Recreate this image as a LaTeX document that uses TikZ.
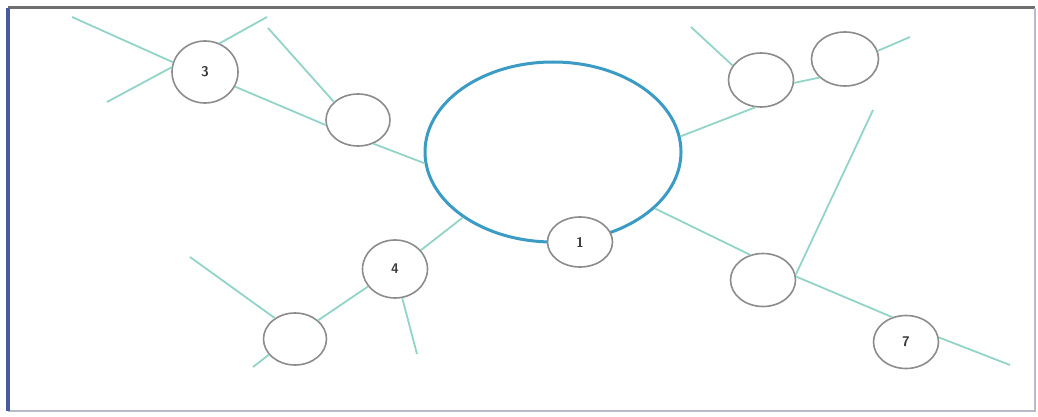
\documentclass[tikz,border=0pt]{standalone}
\usetikzlibrary{shapes.geometric}
\begin{document}
\begin{tikzpicture}[x=1pt,y=-1pt,
  link/.style={draw=linkc, line width=1.8pt},
  bub/.style={ellipse, draw=bubc, line width=1.6pt, fill=white, inner sep=0pt,
    font=\sffamily\bfseries\fontsize{14}{14}\selectfont, text=numc},
  hub/.style={ellipse, draw=hubc, line width=3pt, inner sep=0pt,
    minimum width=256pt, minimum height=180pt}]
\definecolor{linkc}{HTML}{92D4C8}
\definecolor{bubc}{HTML}{8C8C8C}
\definecolor{hubc}{HTML}{3A9BC4}
\definecolor{numc}{HTML}{3A3A3A}
\definecolor{framel}{HTML}{4A5A9E}
\definecolor{framet}{HTML}{6E7070}
\definecolor{framer}{HTML}{B8BCC8}
\useasboundingbox (0,0) rectangle (1038,417);
\fill[white] (0,0) rectangle (1038,417);
% frame
\draw[framet, line width=3pt] (8,8) -- (1035,8);
\draw[framer, line width=1.5pt] (1035,8) -- (1035,411) -- (8,411);
\draw[framel, line width=3.5pt] (8,8) -- (8,411);
% free ends
\coordinate (a1) at (72,17);
\coordinate (a2) at (107,102);
\coordinate (a3) at (267,17);
\coordinate (a4) at (268,28);
\coordinate (b1) at (691,27);
\coordinate (b2) at (910,37);
\coordinate (b3) at (873,110);
\coordinate (d1) at (190,257);
\coordinate (d2) at (253,367);
\coordinate (d3) at (417,354);
\coordinate (e1) at (1010,365);
% hub
\node[hub] (hub) at (553,152) {};
% bubbles
\node[bub, minimum width=66pt, minimum height=62pt] (n3) at (205,72) {3};
\node[bub, minimum width=64pt, minimum height=52pt] (nA) at (358,120) {};
\node[bub, minimum width=65pt, minimum height=54pt] (nB) at (761,80) {};
\node[bub, minimum width=67pt, minimum height=54pt] (nC) at (845,59) {};
\node[bub, minimum width=65pt, minimum height=58pt] (n4) at (395,269) {4};
\node[bub, minimum width=63pt, minimum height=52pt] (nD) at (295,339) {};
\node[bub, minimum width=65pt, minimum height=53pt] (nE) at (763,280) {};
\node[bub, minimum width=65pt, minimum height=53pt] (n7) at (906,342) {7};
\node[bub, minimum width=65pt, minimum height=50pt] (n1) at (580,242) {1};
% connectors
\draw[link] (a1) -- (n3.163);
\draw[link] (a2) -- (n3.172);
\draw[link] (n3.63) -- (a3);
\draw[link] (n3.-26) -- (nA.189);
\draw[link] (a4) -- (nA.143);
\draw[link] (nA.-57) -- (hub.185);
\draw[link] (hub.7) -- (nB.-102);
\draw[link] (nB.-5) -- (nC.216);
\draw[link] (nC.14) -- (b2);
\draw[link] (b1) -- (nB.153);
\draw[link] (b3) -- (nE.9);
\draw[link] (hub.216) -- (n4.36);
\draw[link] (n4.213) -- (nD.39);
\draw[link] (d1) -- (nD.134);
\draw[link] (nD.211) -- (d2);
\draw[link] (n4.-76) -- (d3);
\draw[link] (hub.-29) -- (nE.117);
\draw[link] (nE.6) -- (n7.119);
\draw[link] (n7.8) -- (e1);
\end{tikzpicture}
\end{document}
